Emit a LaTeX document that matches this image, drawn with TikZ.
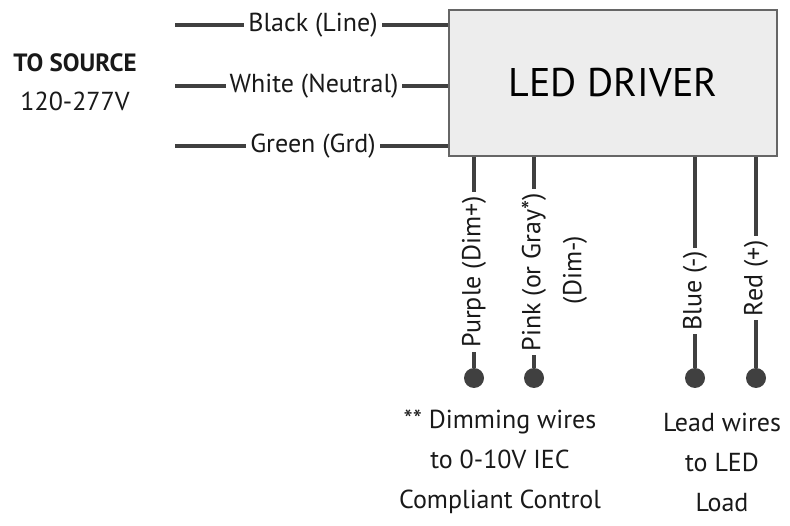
\documentclass[tikz,border=0pt]{standalone}
\usepackage{fontspec}
\setmainfont{PT Sans}
\begin{document}
\begin{tikzpicture}[x=1pt,y=-1pt,
 wire/.style={draw=black!75,line width=3.5pt},
 lab/.style={fill=white,font=\fontsize{26}{30}\selectfont,inner sep=4pt,text=black!90},
 vlab/.style={lab,rotate=90},
 dot/.style={circle,fill=black!75,minimum size=20pt,inner sep=0pt},
 txt/.style={font=\fontsize{26}{30}\selectfont,text=black!90}]
\useasboundingbox (0,0) rectangle (790,526);
\node[draw=black!60,line width=1.2pt,fill=black!7,minimum width=328pt,minimum height=146pt,inner sep=0pt,font=\fontsize{40}{44}\selectfont] (drv) at (613,83) {LED DRIVER};
% left wires
\coordinate (a1) at (175,25); \coordinate (a2) at (175,86); \coordinate (a3) at (175,146);
\draw[wire] (a1) -- (a1 -| drv.west);
\draw[wire] (a2) -- (a2 -| drv.west);
\draw[wire] (a3) -- (a3 -| drv.west);
\node[lab] (lb) at (313,25) {Black (Line)};
\node[lab] (lw) at (314,86) {White (Neutral)};
\node[lab] (lg) at (313,146) {Green (Grd)};
\node[txt,font=\fontsize{25}{30}\selectfont\bfseries] (ts) at (75,63) {TO SOURCE};
\node[txt] (v) at (75,101) {120-277V};
% vertical wires
\node[dot] (d1) at (474,378) {}; \node[dot] (d2) at (534,378) {};
\node[dot] (d3) at (695,378) {}; \node[dot] (d4) at (756,378) {};
\draw[wire] (d1) -- (d1 |- drv.south);
\draw[wire] (d2) -- (d2 |- drv.south);
\draw[wire] (d3) -- (d3 |- drv.south);
\draw[wire] (d4) -- (d4 |- drv.south);
\node[vlab] (p1) at (474,272) {Purple (Dim+)};
\node[vlab] (p2) at (534,272) {Pink (or Gray*)};
\node[txt,rotate=90] (p2b) at (575,270) {(Dim-)};
\node[vlab] (p3) at (695,291) {Blue (-)};
\node[vlab] (p4) at (756,278) {Red (+)};
\node[txt,align=center,font=\fontsize{26}{40}\selectfont] (t1) at (500,462) {** Dimming wires\\to 0-10V IEC\\Compliant Control};
\node[txt,align=center,font=\fontsize{26}{40}\selectfont] (t2) at (722,462) {Lead wires\\to LED\\Load};
\end{tikzpicture}
\end{document}
